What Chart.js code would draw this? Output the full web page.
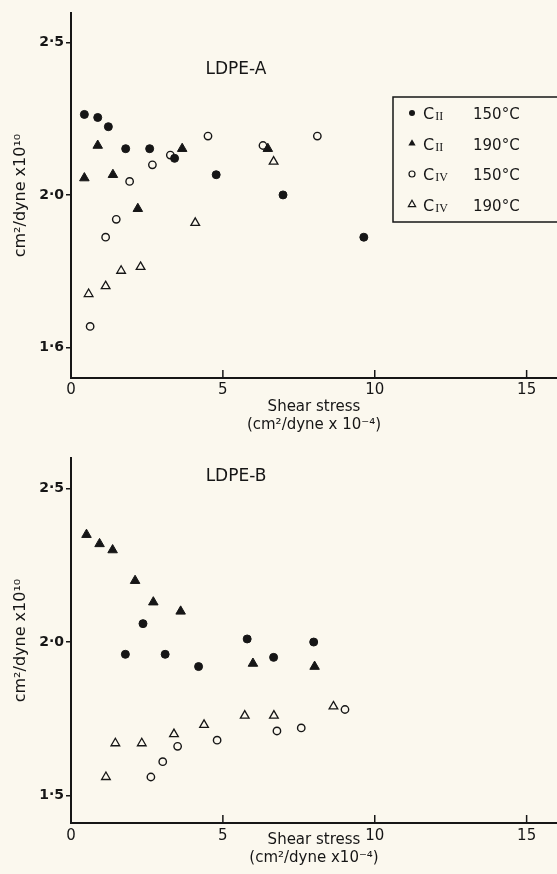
<!DOCTYPE html>
<html>
<head>
<meta charset="utf-8">
<script src="https://cdn.jsdelivr.net/npm/chart.js"></script>
<style>
  html, body { margin: 0; padding: 0; background: #fbf8ee; }
  body { width: 557px; height: 874px; position: relative; overflow: hidden; }
  canvas { position: absolute; left: 0; }
  #chartA { top: 0; }
  #chartB { top: 440px; }
</style>
</head>
<body>
<canvas id="chartA" width="557" height="440"></canvas>
<canvas id="chartB" width="557" height="434"></canvas>
<script>
// Graduations des axes
var xTicks = [0, 5, 10, 15];
var yTicksA = [1.6, 2.0, 2.5];
var yTicksB = [1.5, 2.0, 2.5];

// Séries (même ordre pour les deux graphiques)
var seriesNames = ['CII 150°C', 'CII 190°C', 'CIV 150°C', 'CIV 190°C'];
var legendSubs = ['II', 'II', 'IV', 'IV'];
var legendTemps = ['150°C', '190°C', '150°C', '190°C'];

// LDPE-A
var aC2_150_x = [0.44, 0.88, 1.23, 1.80, 2.59, 3.41, 4.78, 6.98, 9.64];
var aC2_150_y = [2.25, 2.24, 2.21, 2.14, 2.14, 2.11, 2.06, 2.00, 1.88];
var aC2_190_x = [0.44, 0.88, 1.38, 2.20, 3.66, 6.48];
var aC2_190_y = [2.05, 2.15, 2.06, 1.96, 2.14, 2.14];
var aC4_150_x = [0.63, 1.14, 1.49, 1.93, 2.68, 3.27, 4.51, 6.32, 8.11];
var aC4_150_y = [1.65, 1.88, 1.93, 2.04, 2.09, 2.12, 2.18, 2.15, 2.18];
var aC4_190_x = [0.58, 1.14, 1.65, 2.29, 4.09, 6.67];
var aC4_190_y = [1.73, 1.75, 1.79, 1.80, 1.92, 2.10];

// LDPE-B
var bC2_150_x = [1.79, 2.37, 3.10, 4.20, 5.80, 6.67, 7.99];
var bC2_150_y = [1.96, 2.06, 1.96, 1.92, 2.01, 1.95, 2.00];
var bC2_190_x = [0.51, 0.94, 1.37, 2.11, 2.71, 3.61, 5.99, 8.02];
var bC2_190_y = [2.35, 2.32, 2.30, 2.20, 2.13, 2.10, 1.93, 1.92];
var bC4_150_x = [2.63, 3.02, 3.51, 4.81, 6.78, 7.58, 9.02];
var bC4_150_y = [1.56, 1.61, 1.66, 1.68, 1.71, 1.72, 1.78];
var bC4_190_x = [1.15, 1.46, 2.33, 3.39, 4.38, 5.72, 6.68, 8.64];
var bC4_190_y = [1.56, 1.67, 1.67, 1.70, 1.73, 1.76, 1.76, 1.79];

var INK = '#161616';
var PAPER = '#fbf8ee';
var FONT = '"DejaVu Sans", sans-serif';

var markerStyles = [
    { pointStyle: 'circle', radius: 4, bg: INK, bw: 1, order: 0 },
    { pointStyle: 'triangle', radius: 5.5, bg: INK, bw: 1, order: 0 },
    { pointStyle: 'circle', radius: 3.7, bg: PAPER, bw: 1.4, order: 1 },
    { pointStyle: 'triangle', radius: 5, bg: PAPER, bw: 1.3, order: 1 }
];

function toPoints(xs, ys) {
    var pts = [];
    for (var i = 0; i < xs.length; i++) {
        pts.push({ x: xs[i], y: ys[i] });
    }
    return pts;
}

function makeDatasets(xsList, ysList) {
    return xsList.map(function (xs, i) {
        var m = markerStyles[i];
        return {
            label: seriesNames[i],
            data: toPoints(xs, ysList[i]),
            pointStyle: m.pointStyle,
            pointRadius: m.radius,
            pointHoverRadius: m.radius,
            pointBackgroundColor: m.bg,
            pointBorderColor: INK,
            pointBorderWidth: m.bw,
            showLine: false,
            order: m.order
        };
    });
}

// Petites graduations de l'axe x tournées vers l'intérieur
var innerTicks = {
    id: 'innerTicks',
    afterDraw: function (chart) {
        var sx = chart.scales.x;
        var ctx = chart.ctx;
        var yb = chart.chartArea.bottom;
        ctx.save();
        ctx.strokeStyle = INK;
        ctx.lineWidth = 1.5;
        sx.ticks.forEach(function (t) {
            if (t.value === 0) return;
            var px = sx.getPixelForValue(t.value);
            ctx.beginPath();
            ctx.moveTo(px, yb);
            ctx.lineTo(px, yb - 8);
            ctx.stroke();
        });
        ctx.restore();
    }
};

// Nom du polymère dans le graphique
var panelLabel = {
    id: 'panelLabel',
    afterDraw: function (chart, args, opts) {
        if (!opts.text) return;
        var ctx = chart.ctx;
        ctx.save();
        ctx.fillStyle = INK;
        ctx.font = '17px ' + FONT;
        ctx.textAlign = 'center';
        ctx.textBaseline = 'middle';
        ctx.fillText(opts.text, opts.x, opts.y);
        ctx.restore();
    }
};

function drawMarker(ctx, style, filled, x, y, r) {
    ctx.beginPath();
    if (style === 'circle') {
        ctx.arc(x, y, r, 0, Math.PI * 2);
    } else {
        var a = -Math.PI / 2;
        ctx.moveTo(x + Math.cos(a) * r, y + Math.sin(a) * r);
        for (var k = 1; k <= 2; k++) {
            a += Math.PI * 2 / 3;
            ctx.lineTo(x + Math.cos(a) * r, y + Math.sin(a) * r);
        }
        ctx.closePath();
    }
    if (filled) {
        ctx.fillStyle = INK;
        ctx.fill();
    } else {
        ctx.lineWidth = 1.2;
        ctx.strokeStyle = INK;
        ctx.stroke();
    }
}

// Légende encadrée (graphique du haut)
var boxLegend = {
    id: 'boxLegend',
    afterDraw: function (chart, args, opts) {
        if (!opts.show) return;
        var ctx = chart.ctx;
        ctx.save();
        ctx.strokeStyle = INK;
        ctx.lineWidth = 1.5;
        ctx.strokeRect(opts.left, opts.top, opts.width, opts.height);
        chart.data.datasets.forEach(function (ds, i) {
            var y = opts.top + 16 + i * 30.5;
            var filled = ds.pointBackgroundColor === INK;
            drawMarker(ctx, ds.pointStyle, filled, opts.left + 19, y, ds.pointStyle === 'circle' ? 3 : 4.2);
            ctx.fillStyle = INK;
            ctx.textBaseline = 'alphabetic';
            ctx.textAlign = 'left';
            ctx.font = '16px ' + FONT;
            var cx = opts.left + 30;
            ctx.fillText('C', cx, y + 6);
            var cw = ctx.measureText('C').width;
            ctx.font = '12px "Liberation Serif", serif';
            ctx.fillText(legendSubs[i], cx + cw + 1, y + 7);
            ctx.font = '15px ' + FONT;
            ctx.fillText(legendTemps[i], opts.left + 80, y + 6);
        });
        ctx.restore();
    }
};

function makeChart(canvasId, cfg) {
    var ctx = document.getElementById(canvasId).getContext('2d');
    return new Chart(ctx, {
        type: 'scatter',
        data: { datasets: makeDatasets(cfg.xs, cfg.ys) },
        options: {
            responsive: false,
            animation: false,
            events: [],
            layout: { autoPadding: false, padding: { top: cfg.padTop, left: 0, right: 0, bottom: 0 } },
            plugins: {
                legend: { display: false },
                tooltip: { enabled: false },
                panelLabel: cfg.label,
                boxLegend: cfg.legend
            },
            scales: {
                x: {
                    type: 'linear',
                    min: 0,
                    max: 16,
                    afterBuildTicks: function (scale) {
                        scale.ticks = xTicks.map(function (v) { return { value: v }; });
                    },
                    afterFit: function (scale) {
                        scale.height = cfg.xAxisHeight;
                        scale.paddingLeft = 0;
                        scale.paddingRight = 0;
                    },
                    grid: { display: false, drawTicks: false },
                    border: { display: true, color: INK, width: 2 },
                    ticks: {
                        color: INK,
                        padding: cfg.xTickPad,
                        autoSkip: false,
                        maxRotation: 0,
                        font: { family: FONT, size: 15, lineHeight: 1.2 }
                    },
                    title: {
                        display: true,
                        text: cfg.xTitle,
                        color: INK,
                        font: { family: FONT, size: 15, lineHeight: 1.2 },
                        padding: { top: 0, bottom: cfg.xTitlePad }
                    }
                },
                y: {
                    type: cfg.yType,
                    min: cfg.yMin,
                    max: cfg.yMax,
                    afterBuildTicks: function (scale) {
                        scale.ticks = cfg.yTicks.map(function (v) { return { value: v }; });
                    },
                    afterFit: function (scale) {
                        scale.width = 71;
                        scale.paddingTop = 0;
                        scale.paddingBottom = 0;
                    },
                    grid: { drawOnChartArea: false, drawTicks: true, tickLength: 5, color: INK, lineWidth: 1.5 },
                    border: { display: true, color: INK, width: 2 },
                    ticks: {
                        color: INK,
                        padding: 2,
                        autoSkip: false,
                        font: { family: FONT, size: 14, weight: 'bold' },
                        callback: function (v) { return Number(v).toFixed(1).replace('.', '·'); }
                    },
                    title: {
                        display: true,
                        text: 'cm²/dyne x10¹⁰',
                        color: INK,
                        font: { family: FONT, size: 16, lineHeight: 1.2 },
                        padding: { top: 11, bottom: 0 }
                    }
                }
            }
        },
        plugins: [innerTicks, panelLabel, boxLegend]
    });
}

var chartA = makeChart('chartA', {
    xs: [aC2_150_x, aC2_190_x, aC4_150_x, aC4_190_x],
    ys: [aC2_150_y, aC2_190_y, aC4_150_y, aC4_190_y],
    yType: 'logarithmic',
    yMin: 1.53,
    yMax: 2.61,
    yTicks: yTicksA,
    padTop: 13,
    xAxisHeight: 62,
    xTickPad: 3,
    xTitlePad: 6,
    xTitle: ['Shear stress', '(cm²/dyne x 10⁻⁴)'],
    label: { text: 'LDPE-A', x: 236, y: 70 },
    legend: { show: true, left: 393, top: 97, width: 170, height: 125 }
});

var chartB = makeChart('chartB', {
    xs: [bC2_150_x, bC2_190_x, bC4_150_x, bC4_190_x],
    ys: [bC2_150_y, bC2_190_y, bC4_150_y, bC4_190_y],
    yType: 'linear',
    yMin: 1.41,
    yMax: 2.6,
    yTicks: yTicksB,
    padTop: 18,
    xAxisHeight: 51,
    xTickPad: 4,
    xTitlePad: 7,
    xTitle: ['Shear stress', '(cm²/dyne x10⁻⁴)'],
    label: { text: 'LDPE-B', x: 236, y: 37 },
    legend: { show: false }
});
</script>
</body>
</html>
